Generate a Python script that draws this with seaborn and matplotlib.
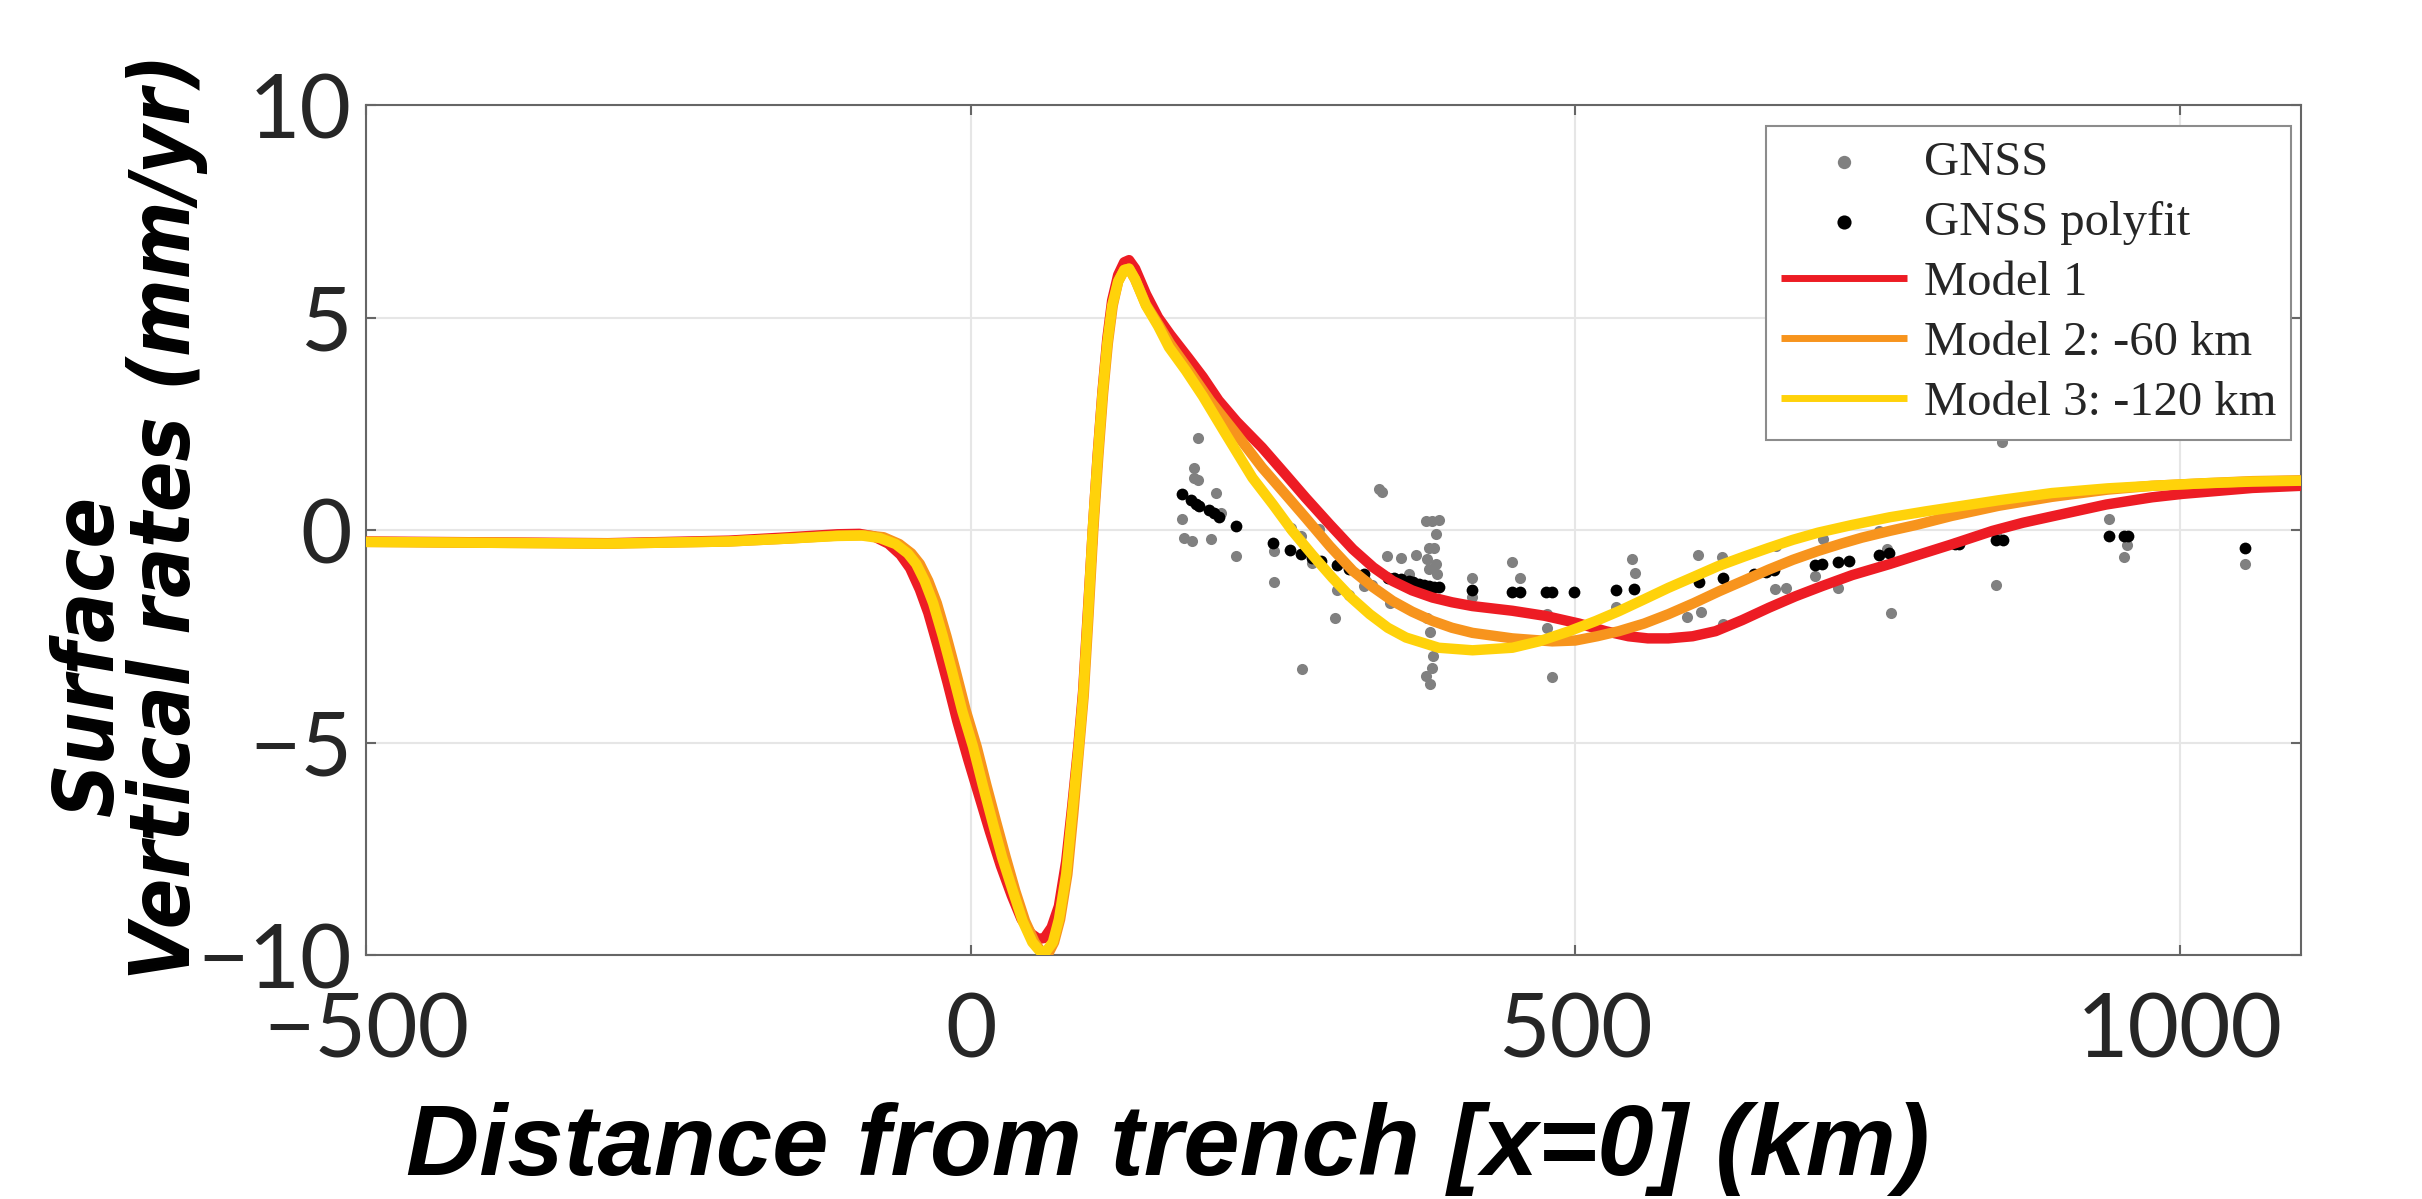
import matplotlib
matplotlib.use('Agg')
import matplotlib.pyplot as plt
from matplotlib import font_manager as fm
from matplotlib.font_manager import FontProperties
import seaborn as sns
import numpy as np

# GNSS station vertical rates (km from trench, mm/yr)
gnss_x = [187.6, 184.9, 184.9, 187.6, 202.7, 174.7, 206.9, 176.6, 182.9, 198.6,
          219.3, 251.0, 251.0, 264.7, 273.0, 282.6, 288.2, 303.3, 313.0, 301.0,
          273.6, 338.0, 340.0, 344.6, 355.6, 368.0, 362.5, 346.8, 326.7, 325.4,
          332.3, 376.3, 381.8, 387.3, 384.6, 379.0, 383.0, 377.7, 384.6, 386.0,
          379.0, 377.7, 379.6, 382.6, 381.2, 376.8, 379.6, 414.9, 414.9, 448.0,
          454.0, 476.9, 476.9, 481.0, 547.0, 549.0, 534.0, 601.4, 621.5, 592.6,
          603.6, 622.4, 665.6, 665.0, 674.5, 698.6, 704.7, 717.4, 751.0, 757.9,
          761.4, 852.9, 848.0, 848.0, 941.0, 956.2, 954.0, 1054.0]
gnss_y = [2.17, 1.47, 1.23, 1.18, 0.88, 0.27, 0.41, -0.18, -0.27, -0.22,
          -0.60, -0.49, -1.22, 0.05, -0.14, -0.77, 0.02, -1.40, -1.54, -2.08,
          -3.28, 0.96, 0.90, -0.61, -0.65, -0.59, -1.03, -1.71, -1.20, -1.32,
          -1.30, 0.21, 0.21, 0.23, -0.10, -0.42, -0.42, -0.69, -0.81, -1.04,
          -0.92, -2.06, -2.39, -2.97, -3.24, -3.44, -3.63, -1.12, -1.58, -0.75,
          -1.14, -1.98, -2.31, -3.45, -0.69, -1.00, -1.80, -0.58, -0.63, -2.05,
          -1.92, -2.20, -0.38, -1.38, -1.36, -1.08, -0.22, -1.36, -0.02, -0.45,
          -1.95, 2.08, -0.09, -1.29, 0.27, -0.35, -0.63, -0.81]

# polynomial fit evaluated at stations
fit_x = [174.7, 182.1, 186.2, 189.0, 197.2, 201.4, 205.5, 219.3, 250.1, 263.9,
         273.5, 282.6, 289.5, 303.3, 313.0, 325.4, 345.0, 350.0, 355.6, 362.5,
         366.0, 370.8, 375.0, 379.0, 383.0, 387.3, 414.9, 448.0, 454.0, 475.6,
         481.0, 498.6, 534.0, 548.6, 602.2, 622.4, 647.7, 657.3, 664.0, 698.6,
         704.0, 717.4, 726.2, 751.0, 759.0, 814.3, 817.0, 848.0, 853.6, 941.0,
         953.5, 957.0, 1054.0]
fit_y = [0.84, 0.70, 0.62, 0.56, 0.46, 0.39, 0.31, 0.10, -0.30, -0.46,
         -0.57, -0.66, -0.74, -0.82, -0.92, -1.03, -1.12, -1.14, -1.16, -1.20,
         -1.22, -1.26, -1.29, -1.32, -1.33, -1.34, -1.42, -1.47, -1.47, -1.47,
         -1.47, -1.47, -1.40, -1.38, -1.22, -1.14, -1.04, -0.99, -0.94, -0.82,
         -0.81, -0.75, -0.72, -0.59, -0.55, -0.34, -0.34, -0.24, -0.24, -0.13,
         -0.13, -0.13, -0.42]

# Model 1
m1_x = [-500, -400, -300, -200, -150, -110, -92, -80, -68, -58, -50, -42, -35,
        -27, -19, -11, -2, 7, 16, 25, 34, 42, 50, 56, 61, 67, 73, 79, 84, 89,
        93, 97, 101, 105, 109, 113, 117, 122, 127, 131, 136, 145, 155, 165,
        180, 192, 205, 220, 241, 260, 277, 297, 316, 333, 349, 365, 382, 398,
        415, 448, 475, 503, 525, 544, 560, 577, 597, 616, 638, 660, 682, 704,
        729, 760, 782, 811, 845, 870, 894, 939, 977, 1002, 1060, 1100]
m1_y = [-0.27, -0.29, -0.31, -0.25, -0.17, -0.10, -0.09, -0.15, -0.32, -0.58,
        -0.90, -1.40, -1.95, -2.75, -3.60, -4.50, -5.40, -6.25, -7.10, -7.90,
        -8.60, -9.15, -9.50, -9.62, -9.60, -9.35, -8.85, -7.80, -6.50, -5.10,
        -3.80, -1.90, 0.00, 1.75, 3.25, 4.50, 5.40, 6.00, 6.30, 6.35, 6.15,
        5.55, 5.00, 4.60, 4.05, 3.60, 3.05, 2.55, 1.94, 1.32, 0.76, 0.13,
        -0.45, -0.88, -1.20, -1.42, -1.59, -1.70, -1.79, -1.90, -2.02, -2.20,
        -2.38, -2.50, -2.55, -2.55, -2.50, -2.38, -2.12, -1.83, -1.56, -1.32,
        -1.06, -0.80, -0.60, -0.34, -0.02, 0.17, 0.32, 0.60, 0.77, 0.85, 0.99,
        1.04]

# Model 2: -60 km
m2_x = [-500, -400, -300, -200, -150, -110, -88, -72, -59, -49, -42, -35, -28,
        -20, -12, -4, 5, 13, 21, 29, 37, 45, 53, 59, 64, 69, 74, 80, 85, 89.5,
        93.5, 97.5, 101.5, 105.5, 109.5, 113.5, 117.5, 122, 127, 131, 136, 145,
        155, 165, 180, 198, 220, 241, 260, 277, 297, 316, 333, 349, 365, 382,
        398, 415, 448, 481, 500, 518, 536, 557, 577, 598, 619, 640, 660, 680,
        701, 720, 737, 760, 782, 811, 850, 894, 940, 977, 1020, 1060, 1100]
m2_y = [-0.28, -0.30, -0.32, -0.27, -0.20, -0.13, -0.12, -0.17, -0.33, -0.55,
        -0.80, -1.20, -1.72, -2.50, -3.36, -4.25, -5.10, -6.00, -6.86, -7.70,
        -8.50, -9.20, -9.70, -9.95, -9.98, -9.70, -9.16, -8.10, -6.64, -5.20,
        -3.90, -2.00, 0.03, 1.70, 3.20, 4.40, 5.28, 5.85, 6.12, 6.15, 5.90,
        5.30, 4.85, 4.38, 3.78, 3.04, 2.25, 1.47, 0.85, 0.29, -0.38, -0.96,
        -1.35, -1.67, -1.92, -2.14, -2.30, -2.42, -2.55, -2.62, -2.60, -2.50,
        -2.38, -2.20, -1.98, -1.72, -1.44, -1.18, -0.93, -0.70, -0.49, -0.32,
        -0.18, -0.02, 0.12, 0.33, 0.57, 0.78, 0.95, 1.04, 1.10, 1.15, 1.17]

# Model 3: -120 km
m3_x = [-500, -400, -300, -200, -150, -110, -90, -75, -62, -52, -45, -38, -31,
        -23, -15, -7, 2, 10, 18, 26, 35, 43, 51, 57, 62, 68, 73, 79, 84, 89,
        93, 97, 101, 105, 109, 113, 117, 122, 127, 131, 136, 145, 155, 164,
        178, 192, 210, 233, 250, 266, 283, 299, 315, 330, 345, 360, 387, 415,
        448, 470, 495, 517, 536, 557, 577, 598, 618, 640, 660, 680, 701, 729,
        760, 790, 820, 850, 894, 940, 977, 1020, 1060, 1100]
m3_y = [-0.28, -0.30, -0.32, -0.27, -0.20, -0.14, -0.13, -0.19, -0.33, -0.55,
        -0.80, -1.20, -1.72, -2.50, -3.36, -4.25, -5.10, -6.00, -6.86, -7.70,
        -8.50, -9.20, -9.70, -9.90, -9.93, -9.70, -9.16, -8.10, -6.64, -5.20,
        -3.90, -2.00, 0.03, 1.70, 3.20, 4.40, 5.28, 5.85, 6.12, 6.15, 5.90,
        5.28, 4.80, 4.30, 3.75, 3.15, 2.30, 1.23, 0.60, -0.02, -0.60, -1.12,
        -1.60, -1.98, -2.30, -2.53, -2.77, -2.83, -2.77, -2.62, -2.38, -2.14,
        -1.91, -1.63, -1.36, -1.10, -0.85, -0.62, -0.42, -0.23, -0.06, 0.12,
        0.30, 0.44, 0.57, 0.70, 0.87, 0.98, 1.04, 1.10, 1.14, 1.16]

RED = '#ED1C24'
ORANGE = '#F7941D'
YELLOW = '#FFD20A'
AXIS_GREY = '#666666'


def pick_narrow_font():
    """Find a condensed bold italic face if one is installed."""
    cands = []
    for f in fm.fontManager.ttflist:
        nm = f.name.lower()
        st = f.stretch
        narrow = ('condensed' in nm or 'narrow' in nm or
                  st in ('condensed', 'semi-condensed', 'extra-condensed',
                         'ultra-condensed') or
                  (isinstance(st, int) and st < 500))
        if not narrow:
            continue
        w = f.weight if isinstance(f.weight, int) else \
            fm.weight_dict.get(f.weight, 400)
        score = abs(w - 700) / 100.0
        score += 0 if f.style in ('italic', 'oblique') else 3
        cands.append((score, f.fname))
    if cands:
        return FontProperties(fname=min(cands)[1])
    return FontProperties(family='DejaVu Sans', weight='bold', style='italic')


sns.set_theme(style="white")
plt.rcParams['font.family'] = ['Lato', 'DejaVu Sans']

fig = plt.figure(figsize=(24.22, 11.99), dpi=100)
ax = fig.add_axes([0.1511, 0.2035, 0.7989, 0.7089])

sns.scatterplot(x=gnss_x, y=gnss_y, ax=ax, color='#808080', s=64,
                linewidth=0, label='GNSS', zorder=2)
sns.scatterplot(x=fit_x, y=fit_y, ax=ax, color='black', s=72,
                linewidth=0, label='GNSS polyfit', zorder=3)

for xs, ys, col, name in [(m1_x, m1_y, RED, 'Model 1'),
                          (m2_x, m2_y, ORANGE, 'Model 2: -60 km'),
                          (m3_x, m3_y, YELLOW, 'Model 3: -120 km')]:
    sns.lineplot(x=xs, y=ys, ax=ax, color=col, linewidth=7.5, sort=False,
                 estimator=None, label=name, zorder=4,
                 solid_joinstyle='round', solid_capstyle='butt')

ax.set_xlim(-500, 1100)
ax.set_ylim(-10, 10)
ax.set_xticks([-500, 0, 500, 1000])
ax.set_yticks([-10, -5, 0, 5, 10])
ax.set_xlabel('')
ax.set_ylabel('')

ax.grid(True, color='#e6e6e6', linewidth=1.5)
ax.set_axisbelow(True)
for spine in ax.spines.values():
    spine.set_visible(True)
    spine.set_color(AXIS_GREY)
    spine.set_linewidth(1.5)

ax.tick_params(axis='both', direction='in', length=7, width=1.5,
               color=AXIS_GREY, labelcolor='#262626', labelsize=64,
               top=True, right=True, bottom=True, left=True)
ax.tick_params(axis='x', pad=26)
ax.tick_params(axis='y', pad=10)

handles, labels = ax.get_legend_handles_labels()
leg = ax.legend(handles, labels, loc='upper right',
                bbox_to_anchor=(0.995, 0.975), borderaxespad=0,
                prop={'family': 'Liberation Serif', 'size': 35},
                frameon=True, fancybox=False, framealpha=1,
                edgecolor='#8c8c8c', handlelength=2.6,
                handletextpad=0.35, labelspacing=0.33, borderpad=0.3,
                markerscale=1.2)
leg.get_frame().set_linewidth(1.5)
for line in leg.get_lines():
    line.set_linewidth(5)

fig.text(0.482, 0.02, 'Distance from trench [x=0] (km)',
         ha='center', va='baseline', fontsize=73, fontweight='bold',
         fontstyle='italic', color='black',
         family=['Liberation Sans', 'DejaVu Sans'])

# two-line y label in a narrow bold italic face, sized to the reference length
yprop = pick_narrow_font()
yprop.set_size(68)
t_vert = fig.text(0.0784, 0.569, 'Vertical rates (mm/yr)', ha='center',
                  va='baseline', rotation=90, rotation_mode='anchor',
                  color='black', fontproperties=yprop)
fig.canvas.draw()
length = t_vert.get_window_extent().height
size = min(68, 68 * 927.0 / length)
yprop.set_size(size)
t_vert.set_fontproperties(yprop)
fig.text(0.0467, 0.453, 'Surface', ha='center', va='baseline',
         rotation=90, rotation_mode='anchor', color='black',
         fontproperties=yprop)

fig.savefig('out.png', dpi=100)
